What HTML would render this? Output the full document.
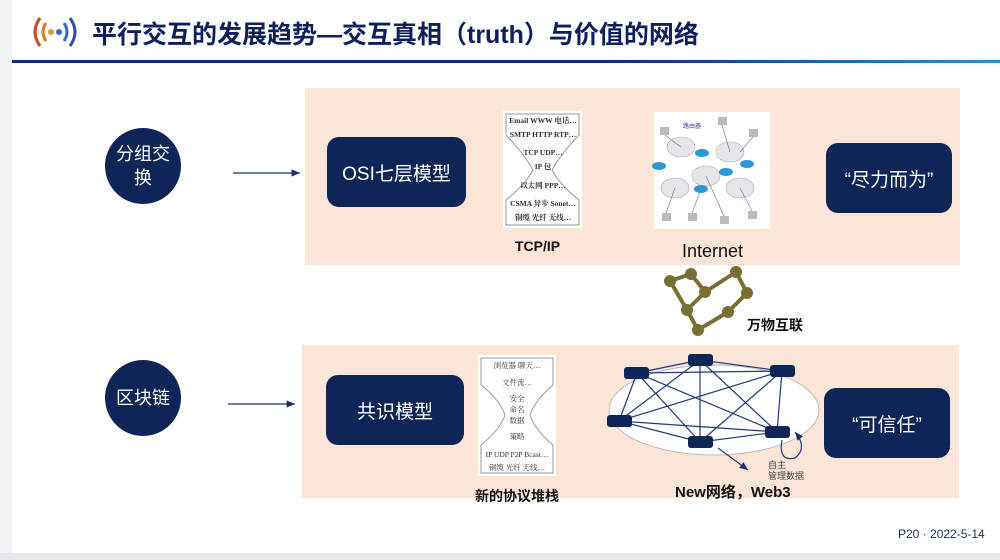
<!DOCTYPE html>
<html><head><meta charset="utf-8"><style>
body{margin:0;width:1000px;height:560px;overflow:hidden;background:#fff;font-family:"Liberation Sans","Noto Sans CJK SC",sans-serif;position:relative}
.a{position:absolute}
.circ{position:absolute;width:76px;height:76px;border-radius:50%;background:#0f2558;color:#fff;font-size:18px;display:flex;align-items:center;justify-content:center;text-align:center;line-height:24px}
.box{position:absolute;background:#0f2558;color:#fff;border-radius:12px;display:flex;align-items:center;justify-content:center;font-size:19px}
.lbl{position:absolute;font-weight:bold;color:#111;font-size:14px;white-space:nowrap}
</style></head><body>
<div class="a" style="left:0;top:0;width:12px;height:560px;background:#f2f3f5"></div>
<div class="a" style="left:0;top:553px;width:1000px;height:7px;background:#e6e7ea"></div>
<svg class="a" style="left:30px;top:14px" width="52" height="36" viewBox="0 0 52 36">
<path d="M10 4 Q0 18 10 32" stroke="#d2461f" stroke-width="3" fill="none"/>
<path d="M16 9 Q10 18 16 27" stroke="#e0782a" stroke-width="3" fill="none"/>
<circle cx="21" cy="18" r="3" fill="#e8962c"/><circle cx="29" cy="18" r="3" fill="#3a66c8"/>
<path d="M34 9 Q40 18 34 27" stroke="#3a66c8" stroke-width="3" fill="none"/>
<path d="M40 4 Q50 18 40 32" stroke="#2b4fb0" stroke-width="3" fill="none"/>
</svg>
<div class="a" style="left:92px;top:15px;font-size:25px;font-weight:bold;color:#0d1f5c;white-space:nowrap">平行交互的发展趋势—交互真相（truth）与价值的网络</div>
<div class="a" style="left:12px;top:60px;width:988px;height:3px;background:linear-gradient(90deg,#0c2a8a 0%,#0c2a8a 60%,#2a8fd6 100%)"></div>

<div class="a" style="left:305px;top:88px;width:655px;height:177px;background:#fbe5d6"></div>
<div class="a" style="left:302px;top:345px;width:657px;height:153px;background:#fbe5d6"></div>

<div class="circ" style="left:105px;top:128px">分组交<br>换</div>
<div class="circ" style="left:105px;top:360px">区块链</div>
<svg class="a" style="left:0;top:0" width="1000" height="560">
<defs><marker id="m" markerWidth="8" markerHeight="8" refX="7" refY="4" orient="auto"><path d="M0 1 L7 4 L0 7z" fill="#1b2f6a"/></marker></defs>
<line x1="233" y1="173" x2="300" y2="173" stroke="#1b2f6a" stroke-width="1.2" marker-end="url(#m)"/>
<line x1="228" y1="404" x2="295" y2="404" stroke="#1b2f6a" stroke-width="1.2" marker-end="url(#m)"/>
<g stroke="#7a7033" stroke-width="4" fill="none">
<polyline points="691,274 670,281 687,310 698,330 728,312 747,293 736,272 705,292 691,274"/>
<line x1="705" y1="292" x2="687" y2="310"/>
</g>
<g fill="#7a7033">
<circle cx="691" cy="274" r="6"/><circle cx="670" cy="281" r="6"/><circle cx="705" cy="292" r="6"/><circle cx="736" cy="272" r="6"/><circle cx="747" cy="293" r="6"/><circle cx="728" cy="312" r="6"/><circle cx="687" cy="310" r="6"/><circle cx="698" cy="330" r="6"/>
</g>
<rect x="503" y="111" width="79" height="117" fill="#fff"/>
<path d="M506 114 L579 114 L579 135 Q560 155 552 170 Q560 185 579 200 L579 225 L506 225 L506 200 Q525 185 533 170 Q525 155 506 135 Z" fill="none" stroke="#999" stroke-width="1"/>
<g font-size="7.5" font-family="Liberation Serif,Noto Serif CJK SC,serif" font-weight="bold" fill="#333" text-anchor="middle">
<text x="543" y="123">Email WWW 电话…</text><text x="543" y="137">SMTP HTTP RTP…</text><text x="543" y="155">TCP UDP…</text><text x="543" y="169">IP 包</text><text x="543" y="188">以太网 PPP…</text><text x="543" y="206">CSMA 异步 Sonet…</text><text x="543" y="220">铜缆 光纤 无线…</text></g>
<rect x="654" y="112" width="116" height="117" fill="#fff"/>
<g fill="#e4e6ea" stroke="#aaa" stroke-width="0.6"><ellipse cx="681" cy="147" rx="14" ry="10"/><ellipse cx="730" cy="152" rx="14" ry="10"/><ellipse cx="706" cy="176" rx="14" ry="10"/><ellipse cx="675" cy="188" rx="14" ry="10"/><ellipse cx="740" cy="188" rx="14" ry="10"/></g>
<g stroke="#6a6aa8" stroke-width="0.6"><line x1="665" y1="135" x2="681" y2="147"/><line x1="722" y1="125" x2="730" y2="152"/><line x1="753" y1="137" x2="740" y2="152"/><line x1="666" y1="213" x2="675" y2="188"/><line x1="692" y1="213" x2="701" y2="189"/><line x1="724" y1="216" x2="706" y2="176"/><line x1="752" y1="211" x2="740" y2="188"/></g>
<g fill="#2a9ad6"><ellipse cx="659" cy="166" rx="7" ry="4"/><ellipse cx="702" cy="153" rx="7" ry="4"/><ellipse cx="726" cy="172" rx="7" ry="4"/><ellipse cx="747" cy="164" rx="7" ry="4"/><ellipse cx="701" cy="189" rx="7" ry="4"/></g>
<g fill="#bbb"><rect x="660" y="127" width="9" height="8"/><rect x="718" y="117" width="9" height="8"/><rect x="749" y="129" width="9" height="8"/><rect x="662" y="213" width="9" height="8"/><rect x="688" y="213" width="9" height="8"/><rect x="720" y="216" width="9" height="8"/><rect x="748" y="211" width="9" height="8"/></g>
<text x="683" y="128" font-size="6" fill="#3a3a9a">路由器</text>
<rect x="478" y="355" width="78" height="121" fill="#fff"/>
<path d="M481 358 L553 358 L553 385 Q535 400 530 415 Q535 430 553 445 L553 473 L481 473 L481 445 Q500 430 505 415 Q500 400 481 385 Z" fill="none" stroke="#999"/>
<g font-size="7.5" font-family="Liberation Serif,Noto Serif CJK SC,serif" fill="#333" text-anchor="middle">
<text x="517" y="368">浏览器 聊天…</text><text x="517" y="385">文件流…</text><text x="517" y="401">安全</text><text x="517" y="412">命名</text><text x="517" y="423">数据</text><text x="517" y="439">策略</text><text x="517" y="457">IP UDP P2P Bcast…</text><text x="517" y="470">铜缆 光纤 无线…</text></g>
<ellipse cx="714" cy="410" rx="105" ry="45" fill="#fff" stroke="#bbb"/>
<g stroke="#1f3a7a" stroke-width="1.2">
<line x1="700" y1="360" x2="637" y2="373"/><line x1="700" y1="360" x2="782" y2="371"/><line x1="700" y1="360" x2="619" y2="421"/><line x1="700" y1="360" x2="777" y2="432"/><line x1="700" y1="360" x2="700" y2="442"/>
<line x1="637" y1="373" x2="782" y2="371"/><line x1="637" y1="373" x2="777" y2="432"/><line x1="637" y1="373" x2="700" y2="442"/><line x1="637" y1="373" x2="619" y2="421"/>
<line x1="782" y1="371" x2="619" y2="421"/><line x1="782" y1="371" x2="700" y2="442"/><line x1="782" y1="371" x2="777" y2="432"/>
<line x1="619" y1="421" x2="777" y2="432"/><line x1="619" y1="421" x2="700" y2="442"/><line x1="700" y1="442" x2="777" y2="432"/>
</g>
<g fill="#0f2558">
<rect x="688" y="354" width="25" height="12" rx="3"/><rect x="770" y="365" width="25" height="12" rx="3"/><rect x="624" y="367" width="25" height="12" rx="3"/><rect x="607" y="415" width="25" height="12" rx="3"/><rect x="765" y="426" width="25" height="12" rx="3"/><rect x="688" y="436" width="25" height="12" rx="3"/>
</g>
<line x1="718" y1="448" x2="748" y2="470" stroke="#1f3a7a" stroke-width="1.2" marker-end="url(#m)"/>
<path d="M782 440 Q778 462 795 458 Q808 448 795 432" fill="none" stroke="#1f3a7a" stroke-width="1.2" marker-end="url(#m)"/>
<text x="768" y="468" font-size="9" fill="#444">自主</text><text x="768" y="479" font-size="9" fill="#444">管理数据</text>
</svg>
<div class="box" style="left:327px;top:137px;width:139px;height:70px">OSI七层模型</div>
<div class="box" style="left:826px;top:143px;width:126px;height:70px">“尽力而为”</div>
<div class="box" style="left:326px;top:375px;width:138px;height:70px">共识模型</div>
<div class="box" style="left:824px;top:388px;width:126px;height:70px">“可信任”</div>
<div class="lbl" style="left:515px;top:238px">TCP/IP</div>
<div class="a" style="left:682px;top:241px;font-size:18px;color:#111">Internet</div>
<div class="lbl" style="left:747px;top:315px">万物互联</div>
<div class="lbl" style="left:475px;top:486px">新的协议堆栈</div>
<div class="lbl" style="left:675px;top:481px;font-size:15px">New网络，Web3</div>
<div class="a" style="left:898px;top:527px;font-size:12px;color:#1b2f5a">P20 · 2022-5-14</div>
</body></html>
